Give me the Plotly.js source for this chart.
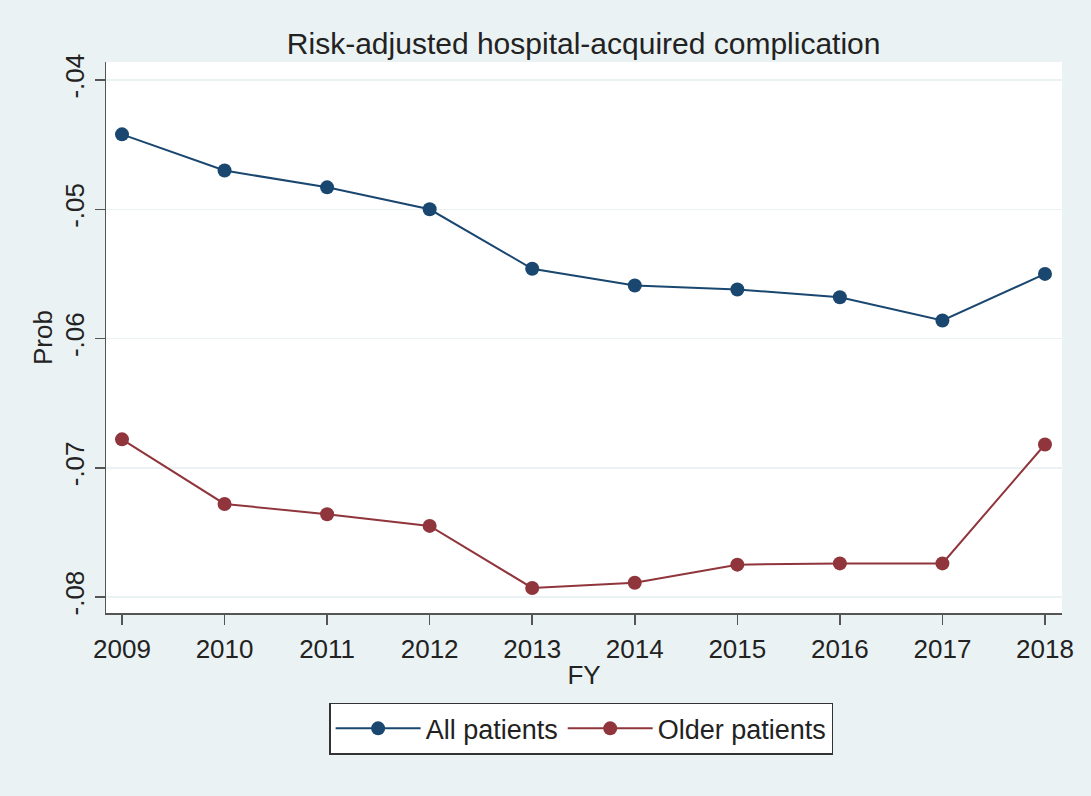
<!DOCTYPE html>
<html>
<head>
<meta charset="utf-8">
<script src="https://cdn.plot.ly/plotly-3.0.1.min.js"></script>
<style>html,body{margin:0;padding:0;background:#eaf2f3;}#chart{width:1091px;height:796px;}</style>
</head>
<body>
<div id="chart"></div>
<script>
const years = [2009, 2010, 2011, 2012, 2013, 2014, 2015, 2016, 2017, 2018];
const allPatients = [-0.0442, -0.0470, -0.0483, -0.0500, -0.0546, -0.0559, -0.0562, -0.0568, -0.0586, -0.0550];
const olderPatients = [-0.0678, -0.0728, -0.0736, -0.0745, -0.0793, -0.0789, -0.0775, -0.0774, -0.0774, -0.0682];
const yTicks = [-0.04, -0.05, -0.06, -0.07, -0.08];
const yTickLabels = ['-.04', '-.05', '-.06', '-.07', '-.08'];
const seriesNames = ['All patients', 'Older patients'];

const font = 'Liberation Sans, Arial, sans-serif';
const traces = [
  {x: years, y: allPatients, name: seriesNames[0], mode: 'lines+markers', type: 'scatter',
   line: {color: '#1a476f', width: 2}, marker: {color: '#1a476f', size: 14}},
  {x: years, y: olderPatients, name: seriesNames[1], mode: 'lines+markers', type: 'scatter',
   line: {color: '#90353b', width: 2}, marker: {color: '#90353b', size: 14}}
];
const layout = {
  width: 1091, height: 796,
  paper_bgcolor: '#eaf2f3', plot_bgcolor: '#ffffff',
  margin: {l: 106, r: 29, t: 62, b: 183},
  font: {family: font, color: '#222', size: 26},
  title: {text: 'Risk-adjusted hospital-acquired complication', x: 0.535, xanchor: 'center', y: 0.945, yanchor: 'middle', font: {size: 30, color: '#222'}},
  xaxis: {
    range: [2008.844, 2018.166], tickvals: years, ticktext: years.map(String),
    showgrid: false, zeroline: false, showline: true, linecolor: '#555', linewidth: 1.5,
    ticks: 'outside', ticklen: 10, tickcolor: '#555', tickwidth: 1.5, tickfont: {size: 26, color: '#222'},
    ticklabelstandoff: 2,
    title: {text: 'FY', font: {size: 26, color: '#222'}, standoff: 3}
  },
  yaxis: {
    range: [-0.08124, -0.0386], tickvals: yTicks, ticktext: yTickLabels, tickangle: -90,
    showgrid: true, gridcolor: '#eaf2f3', gridwidth: 1.5, zeroline: false,
    showline: true, linecolor: '#555', linewidth: 1.5,
    ticks: 'outside', ticklen: 10, tickcolor: '#555', tickwidth: 1.5, tickfont: {size: 26, color: '#222'},
    ticklabelstandoff: 0,
    title: {text: 'Prob', font: {size: 26, color: '#222'}, standoff: 0}
  },
  legend: {
    orientation: 'h', x: 0.497, xanchor: 'center', y: -0.163, yanchor: 'top',
    bgcolor: '#ffffff', bordercolor: '#333', borderwidth: 1.5,
    font: {size: 27, color: '#222'}, itemwidth: 85, tracegroupgap: 0
  },
  showlegend: true
};
Plotly.newPlot('chart', traces, layout, {displayModeBar: false, staticPlot: true});
</script>
</body>
</html>
